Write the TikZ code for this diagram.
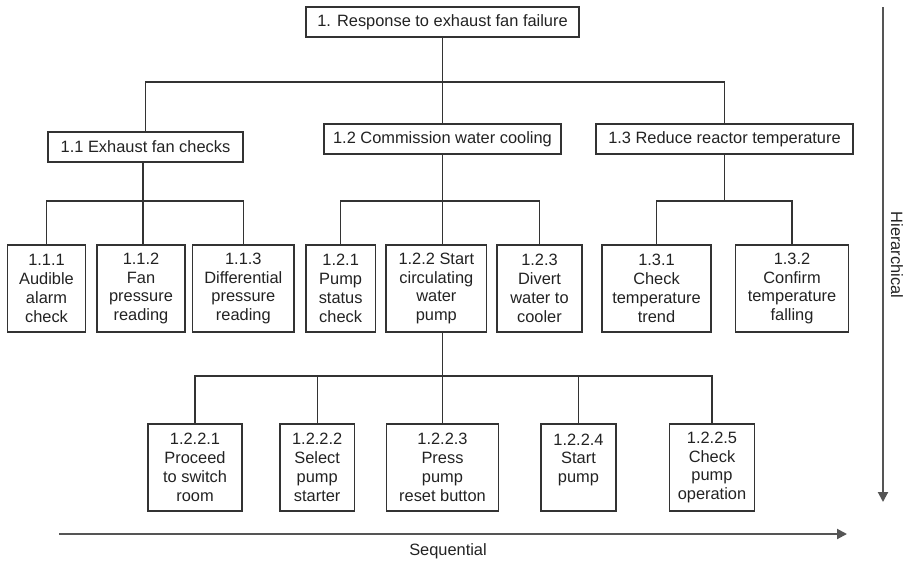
\documentclass[tikz,border=0pt]{standalone}
\usepackage{fontspec}
\setmainfont{Liberation Sans}
\usetikzlibrary{arrows.meta}
\definecolor{ink}{HTML}{222222}
\definecolor{rule}{HTML}{333333}
\definecolor{axis}{HTML}{555555}
\begin{document}
\begin{tikzpicture}[x=1pt,y=-1pt,
  font=\fontsize{16.4}{18.8}\selectfont,
  task/.style={draw=rule, line width=1.1pt, text=ink, inner sep=0pt, align=center},
  wide/.style={task, minimum height=30pt},
  tall/.style={task, minimum height=87pt},
  link/.style={draw=rule, line width=1.1pt},
  axisarrow/.style={draw=axis, line width=2pt, -{Triangle[length=10pt,width=10pt]}}]
\useasboundingbox (0,0) rectangle (908,560);

% root and first level
\node[wide, minimum width=273pt] (top) at (442.5,22) {1. Response to exhaust fan failure};
\node[wide, minimum width=195pt] (n11) at (145.5,147) {1.1 Exhaust fan checks};
\node[wide, minimum width=237pt] (n12) at (442.5,139) {1.2 Commission water cooling};
\node[wide, minimum width=257pt] (n13) at (724.5,139) {1.3 Reduce reactor temperature};

% second level
\node[tall, minimum width=77.6pt]  (n111) at (46.5,288.5)   {1.1.1\\Audible\\alarm\\check};
\node[tall, minimum width=88pt]    (n112) at (141,288.5)    {1.1.2\\Fan\\pressure\\reading};
\node[tall, minimum width=101.3pt] (n113) at (243.35,288.5) {1.1.3\\Differential\\pressure\\reading};
\node[tall, minimum width=69.3pt]  (n121) at (340.65,288.5) {1.2.1\\Pump\\status\\check};
\node[tall, minimum width=100.7pt] (n122) at (436.35,288.5) {1.2.2 Start\\circulating\\water\\pump};
\node[tall, minimum width=85pt]    (n123) at (539.5,288.5)  {1.2.3\\Divert\\water to\\cooler};
\node[tall, minimum width=109pt]   (n131) at (656.5,288.5)  {1.3.1\\Check\\temperature\\trend};
\node[tall, minimum width=112.6pt] (n132) at (792,288.5)    {1.3.2\\Confirm\\temperature\\falling};

% third level under 1.2.2
\node[tall, minimum width=94pt]    (n1221) at (195,467.5)    {1.2.2.1\\Proceed\\to switch\\room};
\node[tall, minimum width=74.3pt]  (n1222) at (317.15,467.5) {1.2.2.2\\Select\\pump\\starter};
\node[tall, minimum width=111.7pt] (n1223) at (442.5,467.5)  {1.2.2.3\\Press\\pump\\reset button};
\node[tall, minimum width=75pt]    (n1224) at (578.5,467.5)  {1.2.2.4\\Start\\pump\\\mbox{}};
\node[tall, minimum width=84.3pt]  (n1225) at (712,467.5)    {1.2.2.5\\Check\\pump\\operation};

% bus lines
\coordinate (b0) at (442.5,82);
\coordinate (b11) at (143,201);
\coordinate (b12) at (442.5,201);
\coordinate (b13) at (724.5,201);
\coordinate (b122) at (442.5,376);

\path[link] (top.south) -- (b0);
\path[link] (n11.north) |- (b0) -| (n13.north);
\path[link] (b0) -- (n12.north);

\path[link] (n11.south -| b11) -- (b11);
\path[link] (n111.north) |- (b11) -| (n113.north);
\path[link] (b11) -- (b11 |- n112.north);

\path[link] (n12.south) -- (b12);
\path[link] (n121.north) |- (b12) -| (n123.north);
\path[link] (b12) -- (b12 |- n122.north);

\path[link] (n13.south) -- (b13);
\path[link] (n131.north) |- (b13) -| (n132.north);

\path[link] (b122 |- n122.south) -- (b122);
\path[link] (n1221.north) |- (b122) -| (n1225.north);
\path[link] (n1222.north) |- (b122);
\path[link] (n1224.north) |- (b122);
\path[link] (b122) -- (n1223.north);

% axes
\coordinate (s0) at (59,534);
\coordinate (s1) at (847,534);
\coordinate (h0) at (883,7);
\coordinate (h1) at (883,502);
\draw[axisarrow] (s0) -- (s1);
\draw[axisarrow] (h0) -- (h1);
\node[text=ink, anchor=base] (seq) at (448,555) {Sequential};
\node[text=ink, rotate=-90] (hier) at (897,255) {Hierarchical};
\end{tikzpicture}
\end{document}
